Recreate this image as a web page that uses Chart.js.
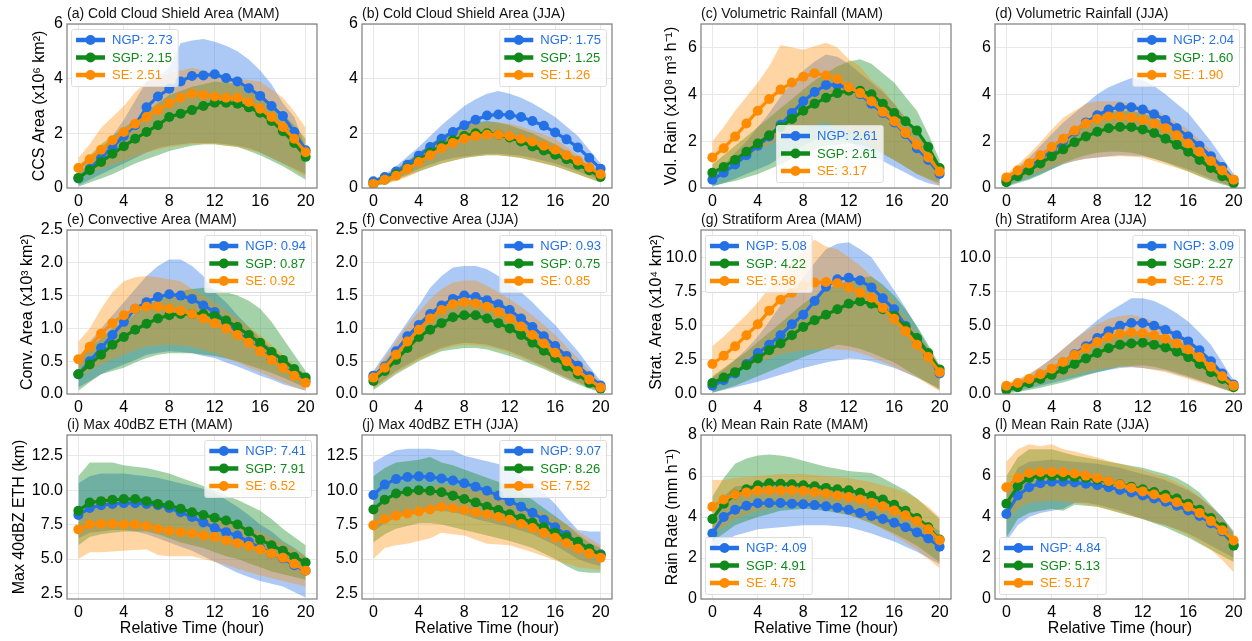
<!DOCTYPE html>
<html lang="en">
<head>
<meta charset="UTF-8">
<title>MCS lifecycle composites</title>
<script src="https://cdn.jsdelivr.net/npm/chart.js"></script>
<style>
  body { margin: 0; background: #fff; }
  #wrap { position: relative; width: 1252px; height: 641px; overflow: hidden; }
  #wrap canvas { position: absolute; }
</style>
</head>
<body>
<div id="wrap"></div>
<script>
// relative time (hour) and regions
const hours = [0,1,2,3,4,5,6,7,8,9,10,11,12,13,14,15,16,17,18,19,20];
const regions = ['NGP', 'SGP', 'SE'];
const xTicks = [0, 4, 8, 12, 16, 20];

// each panel: rows are NGP, SGP, SE; Mean = line, Lo/Hi = shaded range
// (a) Cold Cloud Shield Area (MAM)
const aMean = [
  [0.35,0.7,1.1,1.5,1.9,2.3,2.95,3.35,3.63,3.9,4.1,4.12,4.16,4.02,3.9,3.65,3.37,3.0,2.63,2.05,1.38],
  [0.37,0.65,0.95,1.25,1.53,1.8,2.05,2.3,2.6,2.72,2.85,3.0,3.12,3.12,3.08,2.95,2.75,2.45,2.08,1.65,1.14],
  [0.73,1.05,1.4,1.75,2.05,2.35,2.6,2.85,3.1,3.3,3.45,3.4,3.35,3.3,3.3,3.15,2.9,2.6,2.23,1.8,1.31]];
const aHi = [
  [0.5,0.9,1.4,1.9,2.5,3.2,3.9,4.1,4.4,5.3,5.4,5.45,5.35,5.2,5.0,4.7,4.3,3.8,3.1,2.6,1.5],
  [0.8,1.2,1.6,1.9,2.2,2.5,2.8,3.1,3.4,3.55,3.7,3.8,3.9,3.85,3.8,3.6,3.4,3.1,2.7,2.3,1.8],
  [1.1,1.6,2.2,2.6,3.0,3.5,3.9,4.0,4.2,4.3,4.4,4.3,4.2,4.1,4.0,3.95,3.9,3.6,3.3,2.8,2.2]];
const aLo = [
  [0.1,0.3,0.5,0.7,0.9,1.1,1.3,1.45,1.55,1.6,1.65,1.65,1.65,1.6,1.55,1.45,1.3,1.1,0.9,0.7,0.5],
  [0.05,0.2,0.35,0.5,0.7,0.9,1.05,1.2,1.35,1.45,1.55,1.6,1.6,1.55,1.5,1.35,1.2,1.0,0.8,0.55,0.3],
  [0.4,0.55,0.7,0.85,1.0,1.15,1.3,1.4,1.5,1.55,1.6,1.6,1.6,1.55,1.5,1.4,1.3,1.1,0.9,0.65,0.4]];
const aLegend = [2.73, 2.15, 2.51];

// (b) Cold Cloud Shield Area (JJA)
const bMean = [
  [0.25,0.4,0.6,0.85,1.18,1.5,1.8,2.05,2.3,2.5,2.65,2.69,2.67,2.6,2.45,2.28,2.03,1.78,1.48,1.1,0.7],
  [0.15,0.3,0.5,0.72,1.0,1.3,1.55,1.75,1.9,2.0,2.0,1.95,1.85,1.7,1.52,1.37,1.22,1.05,0.85,0.65,0.4],
  [0.15,0.3,0.45,0.7,0.95,1.2,1.45,1.65,1.8,1.9,1.95,1.95,1.9,1.8,1.7,1.55,1.4,1.2,1.0,0.75,0.5]];
const bHi = [
  [0.3,0.5,0.8,1.15,1.5,1.9,2.3,2.65,3.0,3.25,3.45,3.55,3.45,3.3,3.1,2.85,2.6,2.25,1.9,1.4,0.9],
  [0.2,0.4,0.7,1.0,1.3,1.6,1.9,2.1,2.3,2.4,2.45,2.4,2.3,2.15,2.0,1.8,1.6,1.35,1.1,0.8,0.5],
  [0.2,0.4,0.65,0.95,1.3,1.6,1.85,2.1,2.3,2.38,2.4,2.4,2.35,2.25,2.1,1.95,1.8,1.5,1.2,0.9,0.6]];
const bLo = [
  [0.1,0.2,0.35,0.5,0.7,0.85,1.0,1.1,1.15,1.2,1.25,1.25,1.22,1.18,1.1,1.0,0.9,0.75,0.6,0.45,0.3],
  [0.05,0.15,0.3,0.45,0.6,0.75,0.9,1.0,1.1,1.15,1.2,1.2,1.15,1.1,1.0,0.9,0.8,0.65,0.5,0.35,0.2],
  [0.05,0.15,0.25,0.4,0.6,0.75,0.9,1.0,1.1,1.15,1.2,1.2,1.15,1.1,1.0,0.9,0.8,0.65,0.5,0.35,0.2]];
const bLegend = [1.75, 1.25, 1.26];

// (c) Volumetric Rainfall (MAM)
const cMean = [
  [0.35,0.65,1.0,1.4,1.8,2.2,2.7,3.2,3.7,4.1,4.4,4.4,4.25,4.0,3.6,3.2,2.8,2.3,1.7,1.2,0.6],
  [0.65,0.9,1.2,1.55,1.9,2.25,2.6,2.95,3.3,3.6,3.85,4.05,4.15,4.15,4.0,3.6,3.2,2.85,2.45,1.75,0.85],
  [1.3,1.7,2.2,2.75,3.3,3.8,4.2,4.5,4.75,4.9,4.8,4.65,4.3,4.05,3.7,3.25,2.85,2.35,1.85,1.3,0.7]];
const cHi = [
  [0.6,1.0,1.5,2.0,2.6,3.2,3.9,4.5,5.0,5.4,5.7,5.6,5.3,4.9,4.5,4.1,3.6,3.0,2.4,1.7,0.9],
  [1.0,1.4,1.8,2.2,2.6,3.0,3.4,3.8,4.2,4.6,4.9,5.2,5.4,5.5,5.3,4.9,4.5,3.9,3.3,2.3,1.2],
  [2.0,2.6,3.3,3.9,4.5,5.2,6.1,6.0,5.9,6.05,6.2,6.0,5.5,5.2,4.6,4.2,3.6,3.0,2.3,1.7,1.0]];
const cLo = [
  [0.05,0.2,0.4,0.6,0.8,1.0,1.3,1.55,1.8,2.05,2.3,2.2,2.0,1.7,1.4,1.15,0.9,0.65,0.4,0.2,0.1],
  [0.1,0.2,0.3,0.45,0.6,0.8,1.0,1.25,1.5,1.65,1.8,1.85,1.9,1.85,1.7,1.45,1.2,0.9,0.6,0.4,0.2],
  [0.6,0.85,1.1,1.35,1.6,1.85,2.1,2.35,2.6,2.7,2.8,2.6,2.4,2.1,1.8,1.5,1.2,0.9,0.6,0.35,0.1]];
const cLegend = [2.61, 2.61, 3.17];

// (d) Volumetric Rainfall (JJA)
const dMean = [
  [0.35,0.6,0.9,1.25,1.6,2.0,2.4,2.8,3.1,3.35,3.45,3.45,3.35,3.15,2.9,2.55,2.2,1.8,1.35,0.9,0.35],
  [0.25,0.5,0.75,1.05,1.35,1.65,1.95,2.2,2.4,2.55,2.6,2.6,2.5,2.35,2.1,1.85,1.55,1.2,0.85,0.5,0.2],
  [0.45,0.75,1.05,1.4,1.75,2.1,2.45,2.75,2.95,3.05,3.05,3.0,2.9,2.75,2.55,2.25,1.9,1.55,1.15,0.75,0.35]];
const dHi = [
  [0.5,0.9,1.3,1.8,2.3,2.8,3.2,3.6,4.0,4.3,4.5,4.7,4.6,4.35,4.0,3.6,3.2,2.6,2.0,1.3,0.6],
  [0.4,0.7,1.05,1.4,1.8,2.2,2.5,2.8,3.1,3.25,3.3,3.3,3.2,3.0,2.8,2.45,2.1,1.65,1.2,0.75,0.3],
  [0.6,1.0,1.45,1.95,2.5,3.0,3.3,3.6,3.7,3.7,3.7,3.6,3.5,3.3,3.1,2.8,2.5,2.05,1.6,1.05,0.5]];
const dLo = [
  [0.1,0.25,0.4,0.6,0.8,1.0,1.15,1.25,1.3,1.35,1.4,1.38,1.35,1.25,1.1,0.95,0.8,0.6,0.4,0.2,0.05],
  [0.05,0.2,0.35,0.55,0.8,1.05,1.25,1.4,1.5,1.55,1.55,1.5,1.4,1.25,1.1,0.9,0.7,0.5,0.3,0.15,0.02],
  [0.2,0.35,0.5,0.7,0.9,1.05,1.15,1.25,1.3,1.33,1.35,1.33,1.3,1.15,1.0,0.85,0.7,0.5,0.35,0.2,0.05]];
const dLegend = [2.04, 1.60, 1.90];

// (e) Convective Area (MAM)
const eMean = [
  [0.3,0.5,0.7,0.9,1.1,1.3,1.4,1.48,1.52,1.5,1.45,1.35,1.25,1.1,0.95,0.8,0.67,0.53,0.41,0.3,0.2],
  [0.3,0.45,0.6,0.75,0.87,0.98,1.07,1.15,1.2,1.22,1.22,1.22,1.19,1.12,1.02,0.9,0.78,0.64,0.52,0.38,0.25],
  [0.53,0.72,0.92,1.08,1.2,1.3,1.33,1.33,1.3,1.27,1.22,1.15,1.08,1.0,0.9,0.78,0.65,0.52,0.4,0.28,0.17]];
const eHi = [
  [0.55,0.8,1.0,1.2,1.4,1.6,1.8,1.95,2.05,2.05,1.95,1.8,1.55,1.4,1.2,1.02,0.85,0.7,0.55,0.42,0.3],
  [0.5,0.7,0.85,1.0,1.1,1.22,1.35,1.45,1.5,1.57,1.6,1.62,1.6,1.55,1.5,1.42,1.3,1.1,0.85,0.6,0.35],
  [0.8,1.0,1.3,1.55,1.72,1.78,1.8,1.78,1.75,1.72,1.6,1.5,1.4,1.27,1.15,1.02,0.9,0.75,0.6,0.45,0.3]];
const eLo = [
  [0.1,0.2,0.3,0.38,0.45,0.52,0.6,0.63,0.65,0.64,0.62,0.58,0.55,0.48,0.42,0.35,0.28,0.22,0.15,0.1,0.05],
  [0.05,0.18,0.3,0.35,0.4,0.48,0.55,0.6,0.62,0.62,0.62,0.6,0.58,0.54,0.5,0.44,0.38,0.32,0.25,0.17,0.1],
  [0.25,0.35,0.45,0.53,0.6,0.67,0.72,0.74,0.75,0.74,0.72,0.67,0.62,0.55,0.48,0.4,0.33,0.25,0.18,0.11,0.05]];
const eLegend = [0.94, 0.87, 0.92];

// (f) Convective Area (JJA)
const fMean = [
  [0.28,0.42,0.65,0.88,1.05,1.22,1.35,1.45,1.5,1.48,1.43,1.37,1.28,1.15,1.02,0.88,0.73,0.58,0.43,0.27,0.13],
  [0.2,0.35,0.52,0.7,0.87,0.98,1.08,1.17,1.2,1.2,1.15,1.08,1.0,0.9,0.78,0.66,0.55,0.42,0.3,0.17,0.08],
  [0.25,0.4,0.6,0.8,0.98,1.15,1.28,1.37,1.4,1.38,1.33,1.25,1.15,1.03,0.9,0.77,0.63,0.5,0.35,0.22,0.1]];
const fHi = [
  [0.35,0.6,0.85,1.1,1.35,1.62,1.8,1.93,1.95,1.95,1.9,1.8,1.68,1.55,1.4,1.22,1.05,0.85,0.65,0.42,0.2],
  [0.28,0.5,0.7,0.9,1.1,1.25,1.35,1.42,1.45,1.43,1.4,1.33,1.25,1.12,1.0,0.88,0.75,0.6,0.45,0.28,0.12],
  [0.33,0.55,0.8,1.05,1.25,1.45,1.6,1.7,1.73,1.73,1.65,1.55,1.45,1.33,1.2,1.05,0.9,0.72,0.55,0.36,0.18]];
const fLo = [
  [0.1,0.22,0.35,0.45,0.55,0.63,0.7,0.75,0.78,0.77,0.75,0.7,0.65,0.58,0.5,0.42,0.33,0.25,0.18,0.1,0.04],
  [0.06,0.18,0.3,0.4,0.5,0.58,0.65,0.68,0.7,0.7,0.68,0.63,0.58,0.52,0.45,0.38,0.3,0.22,0.15,0.08,0.03],
  [0.08,0.2,0.32,0.42,0.52,0.6,0.68,0.72,0.75,0.74,0.72,0.68,0.62,0.55,0.48,0.4,0.32,0.24,0.17,0.1,0.04]];
const fLegend = [0.93, 0.75, 0.85];

// (g) Stratiform Area (MAM)
const gMean = [
  [0.6,1.0,1.5,2.2,3.0,3.6,4.3,5.1,5.8,6.8,7.85,8.4,8.5,8.3,7.8,7.0,6.2,5.0,3.9,2.8,1.5],
  [0.8,1.2,1.6,2.1,2.6,3.2,3.7,4.3,4.9,5.4,5.8,6.2,6.6,6.78,6.6,6.2,5.73,4.9,4.1,3.0,1.8],
  [2.2,2.8,3.5,4.3,5.1,6.1,6.9,7.4,7.9,8.15,8.2,8.1,7.8,7.4,7.05,6.3,5.5,4.6,3.6,2.7,1.6]];
const gHi = [
  [1.2,1.8,2.5,3.3,4.2,5.3,6.5,7.5,8.5,9.6,10.6,11.0,11.1,10.6,10.0,8.8,7.6,6.3,4.9,3.4,1.8],
  [1.3,1.9,2.5,3.1,3.8,4.5,5.2,5.9,6.6,7.2,7.7,8.0,8.3,8.5,8.6,8.0,7.2,6.2,5.0,3.6,2.1],
  [3.5,4.2,5.0,5.8,6.7,7.8,8.9,9.6,10.5,11.3,10.8,10.6,10.0,9.4,8.6,7.8,6.8,5.6,4.4,3.3,2.0]];
const gLo = [
  [0.1,0.3,0.5,0.7,0.9,1.15,1.4,1.65,1.9,2.1,2.3,2.45,2.6,2.55,2.4,2.15,1.9,1.55,1.2,0.8,0.4],
  [0.1,0.35,0.6,0.95,1.3,1.65,2.0,2.35,2.7,3.0,3.3,3.6,3.5,3.3,3.0,2.65,2.3,1.8,1.3,0.8,0.3],
  [0.9,1.25,1.6,1.95,2.3,2.6,2.9,3.05,3.2,3.25,3.3,3.25,3.2,3.0,2.7,2.35,2.0,1.6,1.2,0.7,0.2]];
const gLegend = [5.08, 4.22, 5.58];

// (h) Stratiform Area (JJA)
const hMean = [
  [0.5,0.7,1.0,1.4,1.8,2.3,2.9,3.5,4.1,4.6,5.0,5.2,5.2,5.0,4.7,4.3,3.85,3.2,2.4,1.5,0.7],
  [0.3,0.5,0.8,1.1,1.4,1.8,2.2,2.6,3.0,3.35,3.6,3.7,3.75,3.6,3.4,3.1,2.7,2.2,1.6,1.1,0.5],
  [0.6,0.8,1.1,1.45,1.85,2.35,2.85,3.35,3.8,4.15,4.4,4.5,4.45,4.3,4.05,3.7,3.25,2.7,2.0,1.3,0.6]];
const hHi = [
  [0.6,1.0,1.4,2.0,2.6,3.3,4.0,4.7,5.4,6.0,6.5,7.0,7.0,6.8,6.4,5.9,5.3,4.5,3.6,2.3,1.0],
  [0.4,0.7,1.1,1.5,2.0,2.5,3.0,3.5,3.9,4.2,4.4,4.5,4.5,4.4,4.2,3.9,3.5,2.9,2.3,1.5,0.7],
  [0.8,1.1,1.5,2.0,2.6,3.3,4.0,4.6,5.1,5.5,5.7,5.8,5.6,5.3,5.0,4.5,4.0,3.3,2.6,1.7,0.8]];
const hLo = [
  [0.15,0.25,0.4,0.6,0.8,1.0,1.2,1.4,1.6,1.75,1.9,1.95,1.9,1.8,1.7,1.45,1.2,0.95,0.7,0.4,0.15],
  [0.05,0.15,0.3,0.45,0.65,0.85,1.1,1.35,1.6,1.8,2.0,2.05,2.1,2.0,1.8,1.55,1.3,1.0,0.7,0.4,0.1],
  [0.3,0.45,0.6,0.8,1.0,1.2,1.4,1.6,1.8,1.9,2.0,2.0,1.9,1.75,1.6,1.35,1.1,0.85,0.6,0.35,0.15]];
const hLegend = [3.09, 2.27, 2.75];

// (i) Max 40dBZ ETH (MAM)
const iMean = [
  [8.2,8.7,8.9,9.0,9.05,9.05,9.0,8.9,8.7,8.4,8.05,7.65,7.25,6.95,6.7,6.25,5.8,5.4,5.05,4.55,4.15],
  [8.5,9.1,9.2,9.3,9.35,9.35,9.2,9.0,8.9,8.65,8.4,8.2,8.0,7.8,7.5,7.0,6.4,6.0,5.6,5.15,4.75],
  [7.15,7.5,7.55,7.55,7.5,7.5,7.4,7.2,7.05,6.95,6.85,6.7,6.6,6.35,6.15,5.95,5.7,5.4,5.1,4.65,4.15]];
const iHi = [
  [10.5,11.0,11.2,11.2,11.2,11.1,11.0,10.9,10.7,10.5,10.3,10.1,9.8,9.3,8.8,8.2,7.5,7.0,6.3,5.8,5.2],
  [11.0,12.0,12.0,12.0,11.8,11.7,11.6,11.4,11.2,10.9,10.6,10.3,10.0,9.6,9.3,8.9,8.5,7.9,7.2,6.6,6.0],
  [8.2,9.2,9.5,9.5,9.3,9.3,9.2,9.1,9.0,8.8,8.5,8.3,8.0,7.8,7.5,7.3,7.0,6.6,6.2,5.7,5.2]];
const iLo = [
  [6.5,6.9,7.0,7.1,7.1,7.0,6.8,6.5,6.2,5.9,5.6,5.2,4.8,4.4,4.0,3.7,3.4,3.2,3.0,2.6,2.2],
  [6.0,6.6,6.8,6.9,7.0,7.0,7.0,6.8,6.5,6.2,6.0,5.8,5.5,5.2,5.0,4.7,4.4,4.1,3.9,3.7,3.5],
  [5.0,5.5,5.5,5.55,5.6,5.65,5.7,5.3,5.2,5.2,5.2,5.0,4.8,4.55,4.3,4.05,3.8,3.6,3.4,3.2,3.0]];
const iLegend = [7.41, 7.91, 6.52];

// (j) Max 40dBZ ETH (JJA)
const jMean = [
  [9.65,10.4,10.8,10.95,11.0,10.95,10.85,10.7,10.5,10.25,9.95,9.6,9.2,8.8,8.35,7.85,7.3,6.75,6.2,5.7,5.35],
  [8.6,9.3,9.75,9.9,10.0,9.95,9.85,9.6,9.35,9.1,8.8,8.55,8.25,7.95,7.65,7.3,6.9,6.6,6.25,5.75,5.3],
  [7.45,7.9,8.15,8.3,8.45,8.6,8.8,8.7,8.55,8.4,8.25,8.05,7.85,7.55,7.25,6.9,6.55,6.15,5.75,5.4,5.1]];
const jHi = [
  [12.0,12.5,12.9,13.0,13.0,13.0,12.9,12.9,12.5,12.3,12.1,11.9,11.5,11.0,10.5,9.8,9.0,8.0,7.1,7.0,7.0],
  [11.0,11.6,12.0,12.1,12.2,12.4,12.0,11.8,11.5,11.2,10.9,10.6,10.2,9.8,9.3,8.7,8.1,7.5,6.8,6.2,5.8],
  [8.5,9.2,9.6,9.8,10.0,10.2,10.4,10.3,10.2,10.0,9.8,9.6,9.3,9.0,8.7,8.4,8.0,7.5,7.0,6.5,6.0]];
const jLo = [
  [7.0,7.6,8.0,8.3,8.5,8.5,8.5,8.4,8.2,7.9,7.7,7.5,7.3,7.05,6.8,6.4,6.0,5.5,5.0,4.7,4.5],
  [6.2,6.8,7.2,7.4,7.6,7.6,7.5,7.3,7.1,6.9,6.7,6.5,6.3,6.05,5.8,5.4,5.0,4.5,4.1,4.0,4.0],
  [5.0,5.8,6.0,6.1,6.3,6.5,6.9,6.8,6.7,6.4,6.1,6.05,6.0,5.75,5.5,5.2,4.9,4.65,4.4,4.3,4.2]];
const jLegend = [9.07, 8.26, 7.52];

// (k) Mean Rain Rate (MAM)
const kMean = [
  [3.2,4.0,4.35,4.55,4.67,4.68,4.68,4.65,4.62,4.58,4.52,4.45,4.35,4.2,4.05,3.9,3.72,3.5,3.25,2.95,2.55],
  [3.9,4.65,5.1,5.35,5.55,5.65,5.62,5.6,5.55,5.5,5.42,5.35,5.3,5.18,5.02,4.85,4.6,4.3,3.95,3.5,2.9],
  [4.5,4.85,5.1,5.2,5.28,5.3,5.3,5.3,5.28,5.22,5.15,5.05,4.97,4.85,4.7,4.52,4.32,4.08,3.8,3.4,2.87]];
const kHi = [
  [4.0,5.0,5.5,5.55,5.6,5.65,5.7,5.65,5.6,5.55,5.5,5.4,5.3,5.15,5.0,4.8,4.6,4.35,4.0,3.7,3.3],
  [5.0,5.9,6.6,6.85,7.0,7.05,7.0,6.9,6.75,6.6,6.45,6.35,6.25,6.2,6.15,5.9,5.6,5.3,4.9,4.4,3.9],
  [5.8,5.8,5.9,5.95,6.0,6.05,6.1,6.1,6.1,6.05,6.0,5.95,5.9,5.8,5.7,5.55,5.4,5.2,4.9,4.5,4.0]];
const kLo = [
  [2.5,2.8,3.1,3.25,3.4,3.45,3.5,3.55,3.6,3.6,3.6,3.55,3.5,3.35,3.2,3.0,2.8,2.55,2.3,2.0,1.7],
  [2.8,3.2,3.6,3.8,4.0,4.15,4.3,4.35,4.4,4.35,4.3,4.2,4.1,3.9,3.7,3.45,3.2,2.9,2.6,2.2,1.8],
  [3.2,3.5,3.9,4.1,4.3,4.4,4.5,4.5,4.5,4.45,4.4,4.25,4.1,3.9,3.7,3.4,3.1,2.75,2.4,1.95,1.5]];
const kLegend = [4.09, 4.91, 4.75];

// (l) Mean Rain Rate (JJA)
const lMean = [
  [4.15,5.05,5.45,5.65,5.72,5.72,5.68,5.62,5.55,5.45,5.32,5.2,5.05,4.9,4.75,4.55,4.32,4.05,3.7,3.3,2.65],
  [4.65,5.5,5.9,6.0,6.0,5.98,5.95,5.9,5.82,5.72,5.6,5.48,5.35,5.22,5.08,4.9,4.65,4.35,3.95,3.5,2.6],
  [5.45,5.9,6.15,6.2,6.2,6.18,6.12,6.02,5.9,5.75,5.58,5.42,5.25,5.1,4.92,4.72,4.5,4.2,3.8,3.35,2.85]];
const lHi = [
  [5.2,6.4,6.7,6.75,6.8,6.75,6.7,6.65,6.6,6.5,6.4,6.25,6.1,5.95,5.8,5.55,5.3,4.95,4.5,4.0,3.3],
  [6.0,6.9,7.3,7.3,7.3,7.15,7.0,6.9,6.8,6.7,6.6,6.5,6.4,6.25,6.1,5.9,5.6,5.2,4.6,4.0,3.2],
  [6.7,7.3,7.55,7.45,7.55,7.3,7.2,7.05,6.9,6.75,6.6,6.45,6.3,6.1,5.95,5.7,5.4,5.0,4.5,3.9,3.3]];
const lLo = [
  [2.8,3.6,4.0,4.2,4.3,4.4,4.7,4.7,4.6,4.45,4.3,4.1,3.9,3.75,3.6,3.4,3.2,2.9,2.6,2.3,2.0],
  [3.0,3.9,4.2,4.3,4.4,4.3,4.6,4.55,4.5,4.35,4.2,4.05,3.9,3.7,3.5,3.25,3.0,2.7,2.4,2.1,1.8],
  [3.7,4.4,4.7,4.75,4.8,4.75,4.7,4.6,4.5,4.35,4.2,4.05,3.9,3.75,3.6,3.35,3.1,2.75,2.4,1.9,1.3]];
const lLegend = [4.84, 5.13, 5.17];

// y tick labels per variable
const ticksCCS = [0, 2, 4, 6];
const ticksRain = [0, 2, 4, 6];
const ticksConv = [0, 0.5, 1.0, 1.5, 2.0, 2.5];
const ticksStrat = [0, 2.5, 5.0, 7.5, 10.0];
const ticksEth = [2.5, 5.0, 7.5, 10.0, 12.5];
const ticksRate = [0, 2, 4, 6, 8];

const FONT = '"Liberation Sans", Arial, Helvetica, sans-serif';
const lineColors = ['#2471e6', '#0f8a1a', '#ff8c00'];
const bandColors = ['rgba(36,113,230,0.38)', 'rgba(15,138,26,0.38)', 'rgba(255,140,0,0.36)'];

// layout of the 4x3 grid (plot frames)
const colLeft = [67, 362, 701, 995];
const rowTop = [24, 230, 435];
const frameW = 250, frameH = 164, axisW = 67, topPad = 24, rightPad = 8;

const panels = [
  {title: '(a) Cold Cloud Shield Area (MAM)', mean: aMean, lo: aLo, hi: aHi, legend: aLegend, yMin: 0, yMax: 6, yTicks: ticksCCS, dec: 0, ylabel: 'CCS Area (x10⁶ km²)', ylabPad: 30, leg: 'ul', col: 0, row: 0},
  {title: '(b) Cold Cloud Shield Area (JJA)', mean: bMean, lo: bLo, hi: bHi, legend: bLegend, yMin: 0, yMax: 6, yTicks: ticksCCS, dec: 0, leg: 'ur', col: 1, row: 0},
  {title: '(c) Volumetric Rainfall (MAM)', mean: cMean, lo: cLo, hi: cHi, legend: cLegend, yMin: 0, yMax: 7, yTicks: ticksRain, dec: 0, ylabel: 'Vol. Rain (x10⁸ m³ h⁻¹)', ylabPad: 28, leg: 'lc', col: 2, row: 0},
  {title: '(d) Volumetric Rainfall (JJA)', mean: dMean, lo: dLo, hi: dHi, legend: dLegend, yMin: 0, yMax: 7, yTicks: ticksRain, dec: 0, leg: 'ur', col: 3, row: 0},
  {title: '(e) Convective Area (MAM)', mean: eMean, lo: eLo, hi: eHi, legend: eLegend, yMin: 0, yMax: 2.5, yTicks: ticksConv, dec: 1, ylabel: 'Conv. Area (x10³ km²)', ylabPad: 18, leg: 'ur', col: 0, row: 1},
  {title: '(f) Convective Area (JJA)', mean: fMean, lo: fLo, hi: fHi, legend: fLegend, yMin: 0, yMax: 2.5, yTicks: ticksConv, dec: 1, leg: 'ur', col: 1, row: 1},
  {title: '(g) Stratiform Area (MAM)', mean: gMean, lo: gLo, hi: gHi, legend: gLegend, yMin: 0, yMax: 12, yTicks: ticksStrat, dec: 1, ylabel: 'Strat. Area (x10⁴ km²)', ylabPad: 13, leg: 'ul', col: 2, row: 1},
  {title: '(h) Stratiform Area (JJA)', mean: hMean, lo: hLo, hi: hHi, legend: hLegend, yMin: 0, yMax: 12, yTicks: ticksStrat, dec: 1, leg: 'ur', col: 3, row: 1},
  {title: '(i) Max 40dBZ ETH (MAM)', mean: iMean, lo: iLo, hi: iHi, legend: iLegend, yMin: 2.1, yMax: 14, yTicks: ticksEth, dec: 1, ylabel: 'Max 40dBZ ETH (km)', ylabPad: 10, leg: 'ur', col: 0, row: 2},
  {title: '(j) Max 40dBZ ETH (JJA)', mean: jMean, lo: jLo, hi: jHi, legend: jLegend, yMin: 2.1, yMax: 14, yTicks: ticksEth, dec: 1, leg: 'ur', col: 1, row: 2},
  {title: '(k) Mean Rain Rate (MAM)', mean: kMean, lo: kLo, hi: kHi, legend: kLegend, yMin: 0, yMax: 8, yTicks: ticksRate, dec: 0, ylabel: 'Rain Rate (mm h⁻¹)', ylabPad: 29, leg: 'll', col: 2, row: 2},
  {title: '(l) Mean Rain Rate (JJA)', mean: lMean, lo: lLo, hi: lHi, legend: lLegend, yMin: 0, yMax: 8, yTicks: ticksRate, dec: 0, leg: 'll', col: 3, row: 2}
];

Chart.defaults.font.family = FONT;
Chart.defaults.color = '#000';

const pts = arr => hours.map((h, i) => ({x: h, y: arr[i]}));

// frame, panel title and in-axes legend
function decor(p) {
  return {
    id: 'decor',
    afterDraw(chart) {
      const {ctx, chartArea: a} = chart;
      ctx.save();
      ctx.strokeStyle = '#7d7d7d';
      ctx.lineWidth = 1.2;
      ctx.strokeRect(a.left, a.top, a.right - a.left, a.bottom - a.top);

      ctx.fillStyle = '#111';
      ctx.font = '14px ' + FONT;
      ctx.textAlign = 'left';
      ctx.textBaseline = 'alphabetic';
      ctx.fillText(p.title, a.left, a.top - 6);

      ctx.font = '13px ' + FONT;
      const labels = regions.map((r, i) => r + ': ' + p.legend[i].toFixed(2));
      const bw = Math.max(...labels.map(t => ctx.measureText(t).width)) + 46;
      const bh = 57;
      let bx, by;
      if (p.leg === 'ul') { bx = a.left + 4; by = a.top + 5; }
      else if (p.leg === 'ur') { bx = a.right - 6 - bw; by = a.top + 5; }
      else if (p.leg === 'll') { bx = a.left + 4; by = a.bottom - 5 - bh; }
      else { bx = a.left + 75; by = a.bottom - 6 - bh; }
      ctx.fillStyle = 'rgba(255,255,255,0.8)';
      ctx.strokeStyle = '#dcdcdc';
      ctx.lineWidth = 1;
      ctx.beginPath();
      ctx.roundRect(bx + 0.5, by + 0.5, bw, bh, 2);
      ctx.fill();
      ctx.stroke();
      labels.forEach((t, i) => {
        const cy = by + 11 + i * 17.5;
        ctx.strokeStyle = lineColors[i];
        ctx.lineWidth = 4.5;
        ctx.beginPath();
        ctx.moveTo(bx + 5, cy);
        ctx.lineTo(bx + 34, cy);
        ctx.stroke();
        ctx.fillStyle = lineColors[i];
        ctx.beginPath();
        ctx.arc(bx + 19.5, cy, 5, 0, Math.PI * 2);
        ctx.fill();
        ctx.textBaseline = 'middle';
        ctx.fillText(t, bx + 41, cy + 0.5);
      });
      ctx.restore();
    }
  };
}

const wrap = document.getElementById('wrap');
panels.forEach(p => {
  const left = colLeft[p.col] - axisW;
  const top = rowTop[p.row] - topPad;
  const xH = p.row === 2 ? 641 - top - topPad - frameH : 22;
  const W = axisW + frameW + rightPad;
  const H = topPad + frameH + xH;
  const cv = document.createElement('canvas');
  cv.width = W; cv.height = H;
  cv.style.left = left + 'px'; cv.style.top = top + 'px';
  cv.style.width = W + 'px'; cv.style.height = H + 'px';
  wrap.appendChild(cv);

  const datasets = [];
  // shaded ranges first (NGP at the bottom)
  for (let s = 0; s < 3; s++) {
    datasets.push({data: pts(p.lo[s]), borderWidth: 0, borderColor: 'transparent', pointRadius: 0, fill: false, order: 12 - s});
    datasets.push({data: pts(p.hi[s]), borderWidth: 0, borderColor: 'transparent', pointRadius: 0, fill: '-1', backgroundColor: bandColors[s], order: 12 - s});
  }
  for (let s = 0; s < 3; s++) {
    datasets.push({
      label: regions[s], data: pts(p.mean[s]),
      borderColor: lineColors[s], borderWidth: 3.2,
      pointRadius: 5, pointBackgroundColor: lineColors[s], pointBorderWidth: 0,
      fill: false, order: 3 - s
    });
  }

  new Chart(cv, {
    type: 'line',
    data: {datasets},
    options: {
      responsive: false, animation: false, devicePixelRatio: 1,
      layout: {padding: {top: topPad, right: rightPad, left: 0, bottom: 0}},
      plugins: {legend: {display: false}, tooltip: {enabled: false}, filler: {drawTime: 'beforeDatasetsDraw'}},
      scales: {
        x: {
          type: 'linear', min: -1, max: 21,
          afterBuildTicks: s => { s.ticks = xTicks.map(v => ({value: v})); },
          afterFit: s => { s.height = xH; },
          grid: {color: '#e8e8e8', drawTicks: false},
          border: {display: false},
          ticks: {font: {size: 16}, color: '#000', padding: 4, maxRotation: 0, autoSkip: false, callback: v => String(v)},
          title: {display: p.row === 2, text: 'Relative Time (hour)', font: {size: 16}, color: '#000', padding: {top: 0, bottom: 3}}
        },
        y: {
          type: 'linear', min: p.yMin, max: p.yMax,
          afterBuildTicks: s => { s.ticks = p.yTicks.map(v => ({value: v})); },
          afterFit: s => { s.width = axisW; },
          grid: {color: '#e8e8e8', drawTicks: false},
          border: {display: false},
          ticks: {font: {size: 16}, color: '#000', padding: 4, autoSkip: false, callback: v => Number(v).toFixed(p.dec)},
          title: {display: !!p.ylabel, text: p.ylabel || '', font: {size: 16}, color: '#000', padding: {top: p.ylabPad || 0, bottom: 0}}
        }
      }
    },
    plugins: [decor(p)]
  });
});
</script>
</body>
</html>
